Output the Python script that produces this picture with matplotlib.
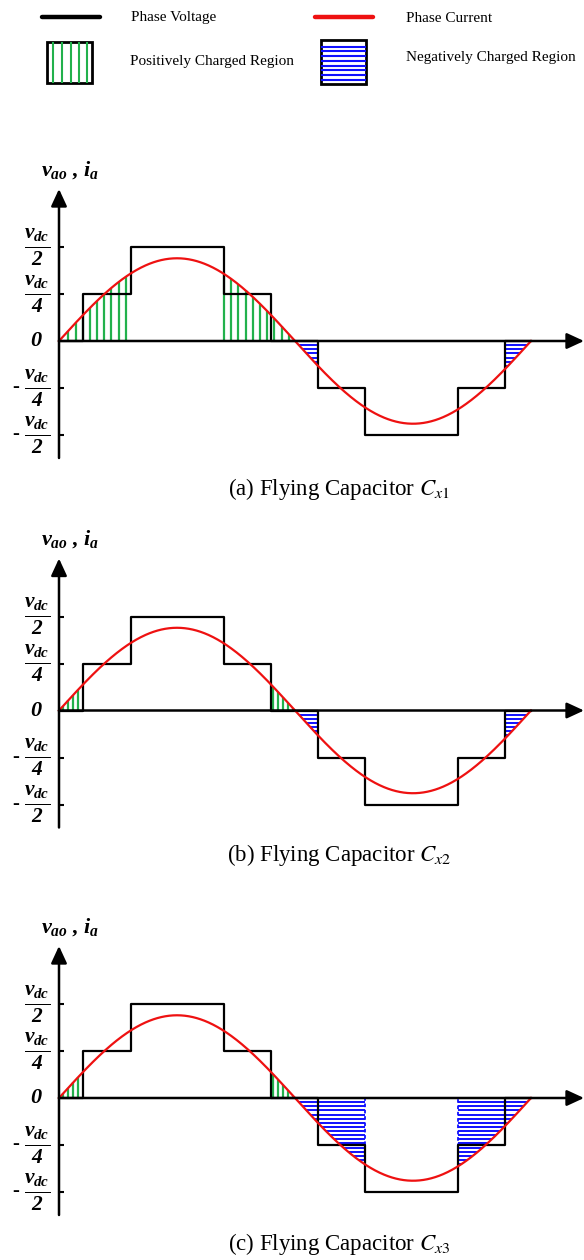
import numpy as np
import matplotlib
matplotlib.use("Agg")
import matplotlib.pyplot as plt
from matplotlib.patches import Rectangle

plt.rcParams["mathtext.fontset"] = "custom"
plt.rcParams["mathtext.it"] = "Liberation Serif:italic:bold"
plt.rcParams["mathtext.rm"] = "Liberation Serif:italic:bold"
plt.rcParams["mathtext.bf"] = "Liberation Serif:italic:bold"

# ---- waveform data (angle in electrical degrees, level in units of vdc/4) ----
step_angles = [0.0, 18.5, 54.7, 125.8, 161.5, 197.3, 233.4, 304.4, 340.2, 360.0]
step_levels = [0, 1, 2, 1, 0, -1, -2, -1, 0, 0]
current_peak = 1.76          # phase current amplitude (vdc/4 units)
current_period = 360.0

tick_levels = [2, 1, 0, -1, -2]
tick_denoms = ["2", "4", None, "4", "2"]

# charging intervals of each flying capacitor (degrees)
positive_regions = [
    [(0.0, 54.7), (125.8, 180.0)],
    [(0.0, 18.5), (161.5, 180.0)],
    [(0.0, 18.5), (161.5, 180.0)],
]
negative_regions = [
    [(180.0, 197.3), (340.2, 360.0)],
    [(180.0, 197.3), (340.2, 360.0)],
    [(180.0, 233.4), (304.4, 360.0)],
]
panel_tags = ["(a)", "(b)", "(c)"]
capacitor_idx = ["1", "2", "3"]
legend_labels = ["Phase Voltage", "Phase Current",
                 "Positively Charged Region", "Negatively Charged Region"]

# ---- styling / layout ----
W, H = 584, 1260
PX_PER_DEG = 236.0 / 180.0
PX_PER_UNIT = 47.0
ORIGIN_X = 59.0
zero_rows = [341.0, 710.5, 1098.0]
caption_rows = [489.0, 855.0, 1244.0]
green_step = [5.49, 3.8, 3.8]
green_offset = [[7.1, 0.0], [3.3, 1.8], [3.3, 1.8]]
blue_step = 0.088
GREEN = "#22b14c"
BLUE = "#1010ff"
RED = "#ee1111"

fig = plt.figure(figsize=(W / 100, H / 100), dpi=100)


def current(x):
    return current_peak * np.sin(np.deg2rad(x) * 360.0 / current_period)


def draw_panel(i):
    z = zero_rows[i]
    top, bot = z - 200, z + 160
    ax = fig.add_axes([0, 1 - bot / H, 1, (bot - top) / H])
    ax.set_xlim(-ORIGIN_X / PX_PER_DEG, (W - ORIGIN_X) / PX_PER_DEG)
    ax.set_ylim(-(bot - z) / PX_PER_UNIT, (z - top) / PX_PER_UNIT)
    ax.axis("off")

    dx = lambda px: (px - ORIGIN_X) / PX_PER_DEG
    dy = lambda py: (z - py) / PX_PER_UNIT

    # positively charged regions: vertical green hatching under the current
    for (lo, hi), off in zip(positive_regions[i], green_offset[i]):
        xs = np.arange(lo + off, hi - 0.3, green_step[i])
        ax.vlines(xs, 0, current(xs), color=GREEN, lw=1.6, zorder=1)

    # negatively charged regions: horizontal blue hatching above the current
    grid = np.linspace(0, 360, 36001)
    cur = current(grid)
    for lo, hi in negative_regions[i]:
        levels = -np.arange(1, 40) * blue_step
        for yl in levels:
            m = (grid >= lo) & (grid <= hi) & (cur <= yl)
            if m.any():
                ax.hlines(yl, grid[m].min(), grid[m].max(), color=BLUE,
                          lw=1.4, zorder=1)
        for edge in (lo, hi):
            if edge not in (180.0, 360.0):
                ax.vlines(edge, current(edge), 0, color=BLUE, lw=1.3,
                          linestyles=(0, (2, 1.5)), zorder=1)

    # phase voltage staircase and phase current
    ax.step(step_angles, step_levels, where="post", color="black", lw=1.6,
            zorder=2)
    xc = np.linspace(0, 360, 721)
    ax.plot(xc, current(xc), color=RED, lw=1.6, zorder=3)

    # axes with arrow heads
    arrow = dict(arrowstyle="-|>,head_length=0.65,head_width=0.3",
                 mutation_scale=16, color="black", lw=1.8,
                 shrinkA=0, shrinkB=0)
    ax.annotate("", xy=(dx(584), 0), xytext=(0, 0), arrowprops=arrow,
                zorder=4)
    ax.annotate("", xy=(0, dy(z - 152)), xytext=(0, dy(z + 117)),
                arrowprops=arrow, zorder=4)
    ax.hlines([l for l in tick_levels if l != 0], 0, dx(64), color="black",
              lw=1.5, zorder=4)

    # tick labels
    for lev, den in zip(tick_levels, tick_denoms):
        if den is None:
            ax.text(dx(36), lev, "0", ha="center", va="center",
                    family="Liberation Serif", weight="bold", style="italic",
                    fontsize=16)
            continue
        ax.text(dx(37), lev, r"$\frac{v_{dc}}{%s}$" % den, ha="center",
                va="center", fontsize=22, math_fontfamily="custom")
        if lev < 0:
            ax.text(dx(16), lev + 0.02, "-", ha="center", va="center",
                    family="Liberation Serif", weight="bold", fontsize=15)

    ax.text(dx(41), dy(z - 171), r"$v_{ao}$ , $i_a$", ha="left", va="center",
            family="Liberation Serif", weight="bold", style="italic",
            fontsize=16, math_fontfamily="custom")

    ax.text(dx(339), dy(caption_rows[i]),
            panel_tags[i] + r" Flying Capacitor $C_{x\mathit{%s}}$" % capacitor_idx[i],
            ha="center", va="center", family="Liberation Serif", fontsize=16.5,
            math_fontfamily="stix")


for i in range(3):
    draw_panel(i)

# ---- legend strip ----
lg = fig.add_axes([0, 1 - 100 / H, 1, 100 / H])
lg.set_xlim(0, W)
lg.set_ylim(100, 0)
lg.axis("off")
lg.plot([42, 100], [17, 17], color="black", lw=3.2, solid_capstyle="round")
lg.plot([315, 373], [17, 17], color=RED, lw=3.2, solid_capstyle="round")
lg.add_patch(Rectangle((47, 42), 45, 41, fill=False, ec="black", lw=2))
lg.vlines([53, 62, 70.5, 79, 87], 42, 83, color=GREEN, lw=1.5)
lg.add_patch(Rectangle((321, 40), 45, 44, fill=False, ec="black", lw=2))
lg.hlines(np.linspace(46.5, 80, 8), 321, 366, color=BLUE, lw=1.5)
for (x, y), lab in zip([(131, 17), (406, 18), (130, 61), (406, 58)],
                       legend_labels):
    lg.text(x, y, lab, ha="left", va="center", family="Liberation Serif",
            fontsize=11)

fig.savefig("out.png", dpi=100)
